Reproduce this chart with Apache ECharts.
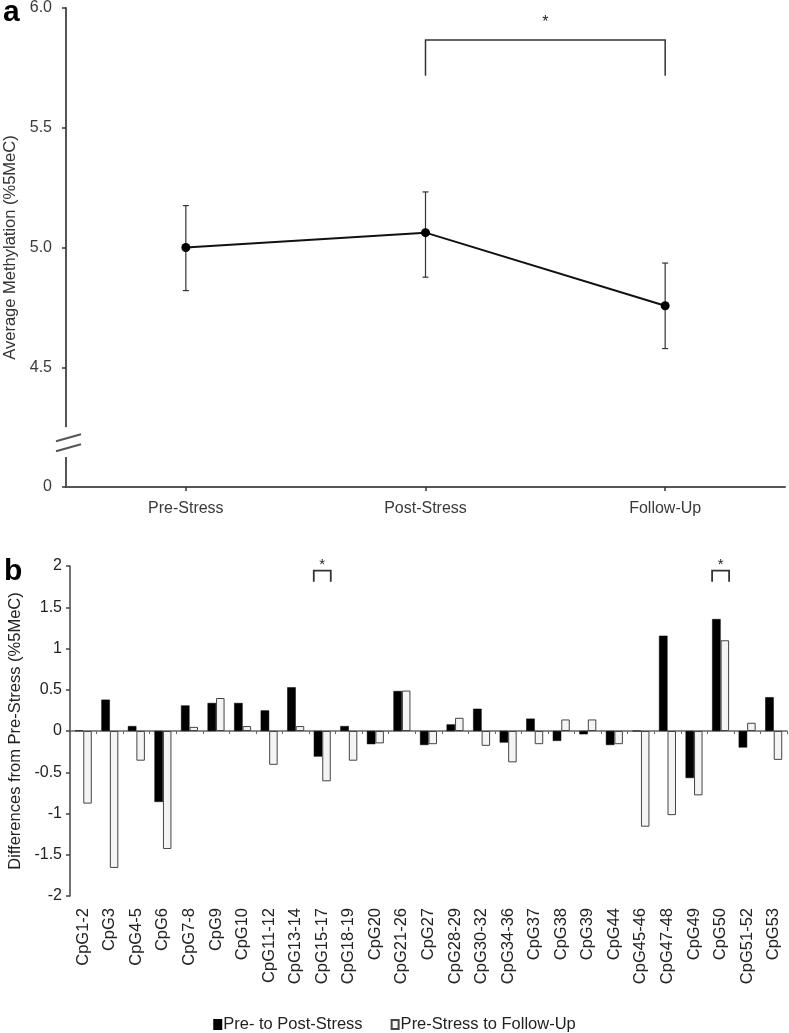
<!DOCTYPE html>
<html>
<head>
<meta charset="utf-8">
<script src="https://cdn.jsdelivr.net/npm/echarts@6/dist/echarts.min.js"></script>
<style>html,body{margin:0;padding:0;background:#fff}#c{width:789px;height:1033px}</style>
</head>
<body>
<div id="c"></div>
<script>
// ---------- Panel a data ----------
const timepoints = ['Pre-Stress', 'Post-Stress', 'Follow-Up'];
const avgMethylation = [5.00, 5.062, 4.757];
const errLow = [4.82, 4.876, 4.578];
const errHigh = [5.175, 5.232, 4.935];
// broken axis: lowest tick (4.0 position) is labelled "0"
const panelATickValues = [4.0, 4.5, 5.0, 5.5, 6.0];
const panelATickLabels = ['0', '4.5', '5.0', '5.5', '6.0'];
// axis break: [gap top, gap bottom, centre]
const axisBreakA = [4.25, 4.125, 4.185];
// significance bracket: [from category, to category, bracket top, leg end, star]
const sigBracketA = [1, 2, 5.866, 5.717, 5.95];

// ---------- Panel b data ----------
const cpgSites = ['CpG1-2', 'CpG3', 'CpG4-5', 'CpG6', 'CpG7-8', 'CpG9', 'CpG10', 'CpG11-12', 'CpG13-14',
  'CpG15-17', 'CpG18-19', 'CpG20', 'CpG21-26', 'CpG27', 'CpG28-29', 'CpG30-32', 'CpG34-36', 'CpG37',
  'CpG38', 'CpG39', 'CpG44', 'CpG45-46', 'CpG47-48', 'CpG49', 'CpG50', 'CpG51-52', 'CpG53'];
const preToPost = [0.005, 0.38, 0.06, -0.86, 0.31, 0.34, 0.34, 0.25, 0.53, -0.31, 0.06, -0.16, 0.485,
  -0.17, 0.08, 0.27, -0.14, 0.15, -0.12, -0.04, -0.17, 0.0, 1.155, -0.57, 1.357, -0.20, 0.41];
const preToFollow = [-0.88, -1.66, -0.36, -1.43, 0.05, 0.40, 0.06, -0.41, 0.06, -0.61, -0.36, -0.15, 0.49,
  -0.16, 0.16, -0.18, -0.38, -0.16, 0.14, 0.14, -0.16, -1.16, -1.02, -0.78, 1.10, 0.10, -0.35];
// brackets: [category index, bracket top, leg end, star]
const sigBracketsB = [[9, 1.943, 1.81, 2.05], [24, 1.943, 1.81, 2.05]];
const seriesNames = ['Pre- to Post-Stress', 'Pre-Stress to Follow-Up'];

const FONT = '"Liberation Sans", Arial, sans-serif';
const chart = echarts.init(document.getElementById('c'), null, {renderer: 'canvas'});

const option = {
  animation: false,
  backgroundColor: '#fff',
  textStyle: {fontFamily: FONT},
  graphic: [
    {type: 'text', left: 3, top: -2, style: {text: 'a', font: 'bold 30px ' + FONT, fill: '#000'}},
    {type: 'text', left: 4, top: 557, style: {text: 'b', font: 'bold 30px ' + FONT, fill: '#000'}}
  ],
  legend: {
    data: seriesNames,
    left: 'center',
    top: 1011,
    icon: 'rect',
    itemWidth: 7,
    itemHeight: 9,
    itemGap: 28,
    selectedMode: false,
    textStyle: {fontSize: 16.5, color: '#222', fontFamily: FONT, padding: [0, 0, 0, -3]}
  },
  grid: [
    {left: 66, right: 4, top: 8, height: 479, containLabel: false, outerBoundsMode: 'none'},
    {left: 70, right: 2, top: 566, height: 330, containLabel: false, outerBoundsMode: 'none'}
  ],
  xAxis: [
    {
      type: 'category', gridIndex: 0, data: timepoints, position: 'bottom',
      axisLine: {show: true, onZero: false, lineStyle: {color: '#555', width: 2}},
      axisTick: {show: true, alignWithLabel: true, length: 4, lineStyle: {color: '#333', width: 1.5}},
      axisLabel: {fontSize: 16, color: '#3a3a3a', margin: 14, fontFamily: FONT},
      splitLine: {show: false}
    },
    {
      type: 'category', gridIndex: 1, data: cpgSites, position: 'bottom',
      axisLine: {show: false, onZero: false},
      axisTick: {show: false},
      axisLabel: {rotate: 90, fontSize: 16.5, color: '#222', margin: 12, interval: 0, fontFamily: FONT},
      splitLine: {show: false}
    },
    {
      type: 'category', gridIndex: 1, data: cpgSites, position: 'bottom',
      axisLine: {show: true, onZero: true, lineStyle: {color: '#666', width: 1.5}},
      axisTick: {show: true, length: 3, interval: 0, lineStyle: {color: '#666', width: 1}},
      axisLabel: {show: false},
      splitLine: {show: false}
    }
  ],
  yAxis: [
    {
      type: 'value', gridIndex: 0, min: 4, max: 6, interval: 0.5,
      axisLine: {show: true, lineStyle: {color: '#555', width: 2}},
      axisTick: {show: true, length: 4, lineStyle: {color: '#333', width: 1.5}},
      axisLabel: {
        fontSize: 16, color: '#3a3a3a', margin: 14, fontFamily: FONT,
        formatter: function (v) {
          const i = panelATickValues.findIndex(t => Math.abs(t - v) < 1e-9);
          return i >= 0 ? panelATickLabels[i] : '';
        }
      },
      splitLine: {show: false},
      name: 'Average Methylation (%5MeC)', nameLocation: 'middle', nameGap: 45,
      nameTextStyle: {fontSize: 16.5, color: '#333', fontFamily: FONT}
    },
    {
      type: 'value', gridIndex: 1, min: -2, max: 2, interval: 0.5,
      axisLine: {show: true, lineStyle: {color: '#444', width: 1.5}},
      axisTick: {show: true, length: 4, lineStyle: {color: '#444', width: 1.5}},
      axisLabel: {fontSize: 16, color: '#222', margin: 8, fontFamily: FONT},
      splitLine: {show: false},
      name: 'Differences from Pre-Stress (%5MeC)', nameLocation: 'middle', nameGap: 44,
      nameTextStyle: {fontSize: 16.5, color: '#222', fontFamily: FONT}
    }
  ],
  series: [
    // ---- Panel a ----
    {
      type: 'custom', xAxisIndex: 0, yAxisIndex: 0, z: 5, silent: true,
      data: [axisBreakA],
      encode: {x: -1, y: [0, 1]},
      renderItem: function (params, api) {
        const band = api.size([1, 0])[0];
        const top = api.coord([0, api.value(0)]);
        const bot = api.coord([0, api.value(1)]);
        const mid = api.coord([0, api.value(2)]);
        const ax = top[0] - band / 2;
        const yc = mid[1];
        return {
          type: 'group', children: [
            {type: 'rect', shape: {x: ax - 4, y: top[1], width: 8, height: bot[1] - top[1]}, style: {fill: '#fff'}},
            {type: 'line', shape: {x1: ax - 10, y1: yc - 1.5, x2: ax + 15, y2: yc - 8.5}, style: {stroke: '#555', lineWidth: 2}},
            {type: 'line', shape: {x1: ax - 10, y1: yc + 8.5, x2: ax + 15, y2: yc + 1.5}, style: {stroke: '#555', lineWidth: 2}}
          ]
        };
      }
    },
    {
      type: 'custom', xAxisIndex: 0, yAxisIndex: 0, z: 3, silent: true,
      data: timepoints.map((t, i) => [i, errLow[i], errHigh[i]]),
      encode: {x: 0, y: [1, 2]},
      renderItem: function (params, api) {
        const lo = api.coord([api.value(0), api.value(1)]);
        const hi = api.coord([api.value(0), api.value(2)]);
        const cap = 3;
        const st = {stroke: '#333', lineWidth: 1.2};
        return {
          type: 'group', children: [
            {type: 'line', shape: {x1: lo[0], y1: lo[1], x2: hi[0], y2: hi[1]}, style: st},
            {type: 'line', shape: {x1: lo[0] - cap, y1: lo[1], x2: lo[0] + cap, y2: lo[1]}, style: st},
            {type: 'line', shape: {x1: hi[0] - cap, y1: hi[1], x2: hi[0] + cap, y2: hi[1]}, style: st}
          ]
        };
      }
    },
    {
      type: 'line', xAxisIndex: 0, yAxisIndex: 0, z: 4, silent: true,
      data: avgMethylation,
      symbol: 'circle', symbolSize: 9,
      lineStyle: {color: '#111', width: 2},
      itemStyle: {color: '#000'}
    },
    {
      type: 'custom', xAxisIndex: 0, yAxisIndex: 0, z: 3, silent: true,
      data: [sigBracketA],
      encode: {x: [0, 1], y: [2, 3]},
      renderItem: function (params, api) {
        const a0 = api.coord([api.value(0), api.value(3)]);
        const a1 = api.coord([api.value(0), api.value(2)]);
        const b1 = api.coord([api.value(1), api.value(2)]);
        const b0 = api.coord([api.value(1), api.value(3)]);
        const s = api.coord([api.value(0), api.value(4)]);
        return {
          type: 'group', children: [
            {type: 'polyline', shape: {points: [a0, a1, b1, b0]}, style: {stroke: '#333', lineWidth: 1.5, fill: null}},
            {type: 'text', style: {x: (a1[0] + b1[0]) / 2, y: s[1] + 3, text: '*', font: '16px ' + FONT, fill: '#222', align: 'center', verticalAlign: 'middle'}}
          ]
        };
      }
    },
    // ---- Panel b ----
    {
      name: seriesNames[0], type: 'bar', xAxisIndex: 1, yAxisIndex: 1,
      data: preToPost, barWidth: '32%', barGap: '0%',
      itemStyle: {color: '#000', borderColor: '#000', borderWidth: 0.5}
    },
    {
      name: seriesNames[1], type: 'bar', xAxisIndex: 1, yAxisIndex: 1,
      data: preToFollow, barWidth: '32%', barGap: '0%',
      itemStyle: {color: '#f4f4f4', borderColor: '#444', borderWidth: 1}
    },
    {
      type: 'custom', xAxisIndex: 1, yAxisIndex: 1, z: 5, silent: true,
      data: sigBracketsB,
      encode: {x: 0, y: [1, 2]},
      renderItem: function (params, api) {
        const band = api.size([1, 0])[0];
        const hw = band * 0.32;
        const t = api.coord([api.value(0), api.value(1)]);
        const l = api.coord([api.value(0), api.value(2)]);
        const s = api.coord([api.value(0), api.value(3)]);
        return {
          type: 'group', children: [
            {type: 'polyline', shape: {points: [[t[0] - hw, l[1]], [t[0] - hw, t[1]], [t[0] + hw, t[1]], [t[0] + hw, l[1]]]},
              style: {stroke: '#333', lineWidth: 1.8, fill: null}},
            {type: 'text', style: {x: t[0], y: s[1] + 3, text: '*', font: '15px ' + FONT, fill: '#222', align: 'center', verticalAlign: 'middle'}}
          ]
        };
      }
    }
  ]
};
chart.setOption(option);
</script>
</body>
</html>
